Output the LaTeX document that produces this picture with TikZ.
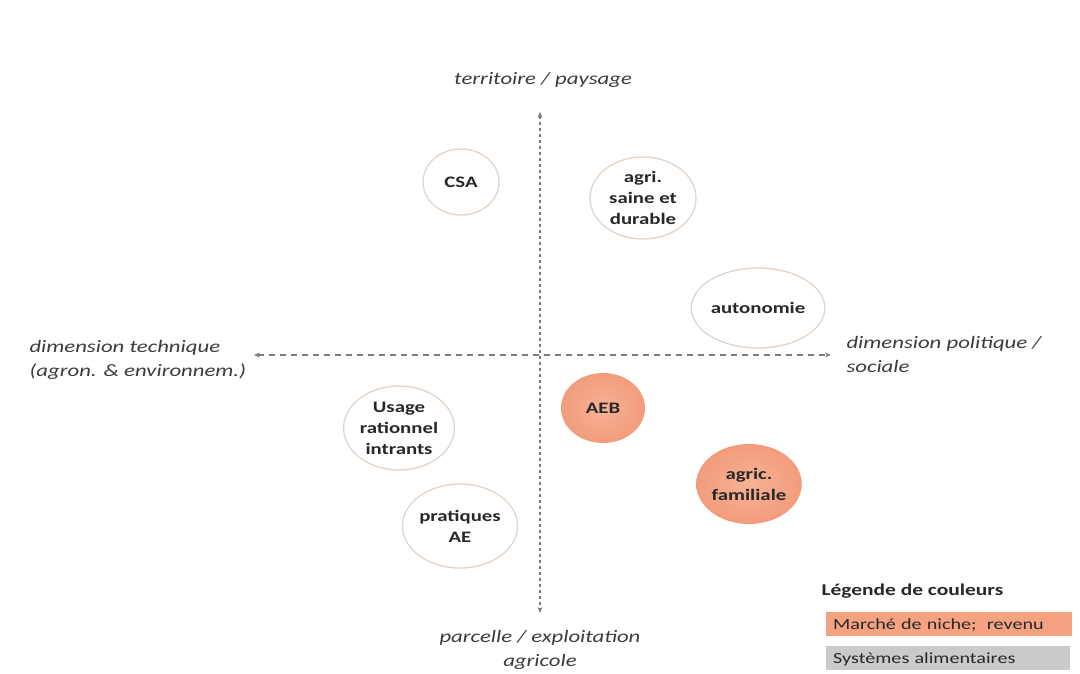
\documentclass[tikz,border=0pt]{standalone}
\usepackage{fontspec}
\setmainfont{Carlito}[FakeStretch=1.3]
\usetikzlibrary{arrows.meta,shapes.geometric}
\definecolor{txt}{RGB}{40,40,40}
\definecolor{lbl}{RGB}{60,60,60}
\definecolor{axisc}{RGB}{125,125,125}
\definecolor{ring}{RGB}{228,212,200}
\definecolor{salmon}{RGB}{242,156,124}
\definecolor{salmonin}{RGB}{246,178,150}
\definecolor{legsalmon}{RGB}{244,162,130}
\definecolor{leggray}{RGB}{202,202,202}
\tikzset{
  bub/.style={ellipse, draw=ring, line width=1.3pt, inner sep=0pt, text=txt,
    font=\fontsize{16}{21}\selectfont\bfseries, align=center},
  hot/.style={bub, draw=none, inner color=salmonin, outer color=salmon},
  axislbl/.style={text=lbl, font=\fontsize{17.5}{24}\selectfont\itshape, align=center},
  axisline/.style={draw=axisc, line width=1.4pt, {Stealth[length=6pt,width=5pt]}-{Stealth[length=6pt,width=5pt]}},
  legbox/.style={anchor=north west, minimum height=24pt, text=txt, inner sep=0pt,
    font=\fontsize{15.5}{18}\selectfont, text depth=0pt, align=left}
}
\begin{document}
\begin{tikzpicture}[x=1pt,y=-1pt]
\useasboundingbox (0,0) rectangle (1080,673);
\fill[white] (0,0) rectangle (1080,673);
% axes
\coordinate (top) at (540,112);
\coordinate (bot) at (540,613);
\coordinate (lft) at (254,355);
\coordinate (rgt) at (831,355);
\draw[axisline, dash pattern=on 3pt off 3pt] (top) -- (bot);
\draw[axisline, dash pattern=on 6pt off 5pt] (lft) -- (rgt);
% axis labels
\node[axislbl] (tl) at (543,80) {territoire / paysage};
\node[axislbl, align=left, anchor=west] (ll) at (26,360) {dimension technique\\(agron. \& environnem.)};
\node[axislbl, align=left, anchor=west] (rl) at (843,354) {dimension politique /\\sociale};
\node[axislbl] (bl) at (540,650) {parcelle / exploitation\\agricole};
% bubbles
\node[bub, minimum width=76pt, minimum height=66pt] (csa) at (461,182) {CSA};
\node[bub, minimum width=106pt, minimum height=82pt] (asd) at (643,198) {agri.\\saine et\\durable};
\node[bub, minimum width=102pt, minimum height=80pt] (auto) at (758,308) {autonomie};
\node[bub, minimum width=102pt, minimum height=84pt] (uri) at (399,428) {Usage\\rationnel\\intrants};
\node[bub, minimum width=102pt, minimum height=84pt] (pae) at (460,526) {pratiques\\AE};
\node[hot, minimum width=84pt, minimum height=70pt] (aeb) at (603,408) {AEB};
\node[hot, minimum width=104pt, minimum height=80pt] (fam) at (749,484) {agric.\\familiale};
% legend
\node[anchor=west, text=txt, font=\fontsize{16.5}{18}\selectfont\bfseries] (legt) at (818,591) {Légende de couleurs};
\node[legbox, fill=legsalmon, minimum width=246pt, text width=240pt] (leg1) at (826,612) {\hspace*{4pt}Marché de niche;\ \ revenu};
\node[legbox, fill=leggray, minimum width=244pt, text width=238pt] (leg2) at (826,646) {\hspace*{4pt}Systèmes alimentaires};
\end{tikzpicture}
\end{document}
